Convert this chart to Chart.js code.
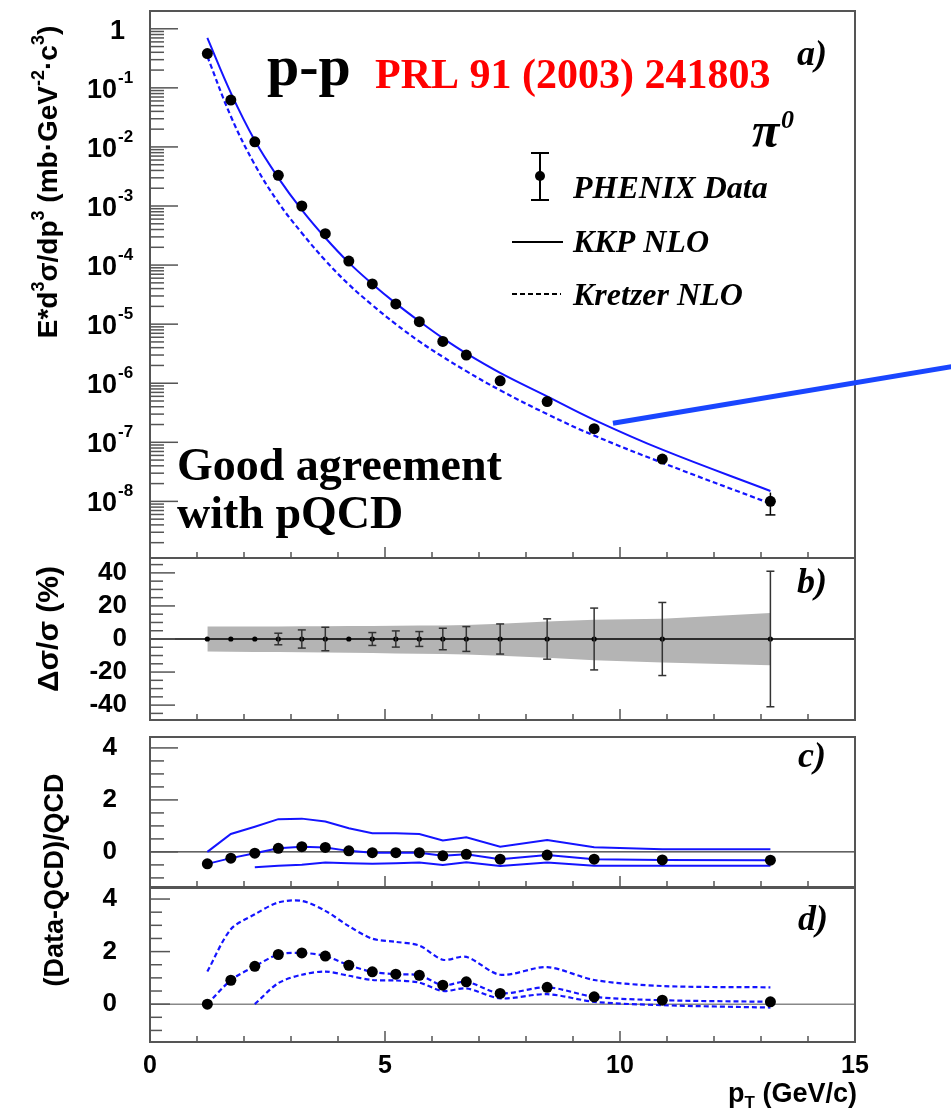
<!DOCTYPE html>
<html>
<head>
<meta charset="utf-8">
<script src="https://cdn.jsdelivr.net/npm/chart.js@4.4.1/dist/chart.umd.min.js"></script>
<style>
  body { margin: 0; background: #fff; width: 951px; height: 1110px; position: relative; overflow: hidden; }
  canvas { position: absolute; left: 0; top: 0; }
</style>
</head>
<body>
<canvas id="chartA" width="951" height="1110"></canvas>
<canvas id="chartB" width="951" height="1110"></canvas>
<canvas id="chartC" width="951" height="1110"></canvas>
<canvas id="chartD" width="951" height="1110"></canvas>
<script>
// ----------------------------------------------------
// DATA  (pi0 cross section, PHENIX p-p)
// ----------------------------------------------------
const pt       = [1.22, 1.72, 2.23, 2.73, 3.23, 3.73, 4.23, 4.73, 5.23, 5.73, 6.23, 6.73, 7.45, 8.45, 9.45, 10.9, 13.2];
const sigma    = [0.38, 0.062, 0.0122, 0.0033, 1.0e-3, 3.4e-4, 1.17e-4, 4.8e-5, 2.2e-5, 1.1e-5, 5.1e-6, 3.0e-6, 1.1e-6, 4.9e-7, 1.7e-7, 5.2e-8, 1.0e-8];
const kkpNLO   = [0.70, 0.082, 0.0128, 0.0030, 8.6e-4, 2.9e-4, 1.1e-4, 4.8e-5, 2.25e-5, 1.12e-5, 5.8e-6, 3.2e-6, 1.5e-6, 6.0e-7, 2.4e-7, 7.5e-8, 1.5e-8];
const kretzer  = [0.34, 0.033, 0.0050, 0.00115, 3.5e-4, 1.2e-4, 4.7e-5, 2.1e-5, 1.0e-5, 5.1e-6, 2.8e-6, 1.6e-6, 7.6e-7, 3.0e-7, 1.3e-7, 4.5e-8, 9.2e-9];

// panel b: relative errors (%)
const statErr  = [1.0, 1.0, 1.0, 3.5, 5.5, 7.1, 1.0, 3.9, 4.9, 4.5, 6.5, 7.5, 9.1, 12.2, 18.7, 22.1, 41];
const sysUp    = [7.5, 7.5, 7.6, 7.6, 7.7, 7.7, 7.8, 7.9, 8.0, 8.1, 8.2, 8.4, 9.2, 10.6, 11.6, 12.2, 15.7];
const sysLow   = [-7.6, -7.7, -7.8, -7.9, -8.0, -8.2, -8.3, -8.5, -8.7, -8.9, -9.1, -9.4, -10.2, -11.4, -12.8, -14.2, -15.9];
const bCentral = [0, 0, 0, 0, 0, 0, 0, 0, 0, 0, 0, 0, 0, 0, 0, 0, 0];

// panel c: (Data-KKP)/KKP
const cRatio   = [-0.46, -0.24, -0.05, 0.14, 0.20, 0.17, 0.04, -0.03, -0.03, -0.03, -0.15, -0.09, -0.28, -0.12, -0.28, -0.31, -0.32];
const cUp      = [0.0, 0.69, 0.97, 1.26, 1.28, 1.17, 0.91, 0.72, 0.72, 0.69, 0.44, 0.56, 0.20, 0.46, 0.18, 0.10, 0.10];
const cLow     = [null, null, -0.59, -0.53, -0.49, -0.41, -0.44, -0.46, -0.44, -0.41, -0.50, -0.40, -0.54, -0.41, -0.53, -0.53, -0.53];

// panel d: (Data-Kretzer)/Kretzer
const dRatio   = [0.0, 0.91, 1.44, 1.89, 1.95, 1.83, 1.48, 1.23, 1.14, 1.10, 0.72, 0.85, 0.41, 0.64, 0.28, 0.15, 0.09];
const dUp      = [1.24, 2.85, 3.42, 3.87, 3.93, 3.55, 2.97, 2.49, 2.37, 2.23, 1.69, 1.80, 1.12, 1.41, 0.92, 0.69, 0.64];
const dLow     = [null, null, 0.0, 0.80, 1.12, 1.24, 1.08, 0.92, 0.90, 0.82, 0.50, 0.60, 0.22, 0.38, 0.09, -0.04, -0.13];

// axes
const xTicks   = [0, 5, 10, 15];
const yTicksA  = [1e-8, 1e-7, 1e-6, 1e-5, 1e-4, 1e-3, 1e-2, 1e-1, 1];
const yTicksB  = [-40, -20, 0, 20, 40];
const yTicksCD = [0, 2, 4];
const zeroX    = [0, 15];

// pointer line drawn over panel a (pT, value)
const arrowPT  = [9.85, 17.05];
const arrowVal = [2.1e-7, 1.9e-6];

const SANS  = '"Liberation Sans", Arial, sans-serif';
const SERIF = '"Liberation Serif", "Times New Roman", serif';
const BLUE  = '#1414ff';

// ----------------------------------------------------
// HELPERS
// ----------------------------------------------------
function series(vals) {
    return pt.map((x, i) => ({ x, y: vals[i] })).filter(p => p.y !== null);
}

function seg(ctx, x1, y1, x2, y2) {
    ctx.beginPath();
    ctx.moveTo(x1, y1);
    ctx.lineTo(x2, y2);
    ctx.stroke();
}

// parts: [text, font, baselineShift]
function richText(ctx, parts, x, y, align, rotate) {
    ctx.save();
    ctx.translate(x, y);
    if (rotate) ctx.rotate(-Math.PI / 2);
    ctx.textBaseline = 'alphabetic';
    ctx.textAlign = 'left';
    let w = 0;
    parts.forEach(p => { ctx.font = p[1]; w += ctx.measureText(p[0]).width; });
    let cx = align === 'center' ? -w / 2 : align === 'right' ? -w : 0;
    parts.forEach(p => {
        ctx.font = p[1];
        ctx.fillText(p[0], cx, p[2] || 0);
        cx += ctx.measureText(p[0]).width;
    });
    ctx.restore();
}

function panelLabel(ctx, text, x, y) {
    ctx.save();
    ctx.fillStyle = '#000';
    ctx.font = `italic bold 36px ${SERIF}`;
    ctx.fillText(text, x, y);
    ctx.restore();
}

// ----------------------------------------------------
// ROOT STYLE FRAME + INWARD TICKS
// ----------------------------------------------------
const rootFrame = {
    id: 'rootFrame',
    afterDraw(chart, args, o) {
        const { ctx, chartArea: a, scales: { x, y } } = chart;
        ctx.save();
        ctx.strokeStyle = '#555';
        ctx.lineWidth = 1.5;

        if (o.log) {
            const k0 = Math.floor(Math.log10(y.min)), k1 = Math.ceil(Math.log10(y.max));
            for (let k = k0; k <= k1; k++) {
                for (let m = 1; m <= 9; m++) {
                    const v = m * Math.pow(10, k);
                    if (v < y.min || v > y.max) continue;
                    const py = y.getPixelForValue(v);
                    seg(ctx, a.left, py, a.left + (m === 1 ? o.majorLen : o.minorLen), py);
                }
            }
        } else {
            const majors = y.ticks.map(t => t.value);
            for (let v = Math.ceil(y.min / o.minorStep) * o.minorStep; v <= y.max + 1e-9; v += o.minorStep) {
                const isMajor = majors.some(m => Math.abs(m - v) < 1e-6);
                const py = y.getPixelForValue(v);
                seg(ctx, a.left, py, a.left + (isMajor ? o.majorLen : o.minorLen), py);
            }
        }

        for (let v = 0; v <= 15; v++) {
            const px = x.getPixelForValue(v);
            seg(ctx, px, a.bottom, px, a.bottom - (xTicks.includes(v) ? 11 : 6));
        }

        ctx.lineWidth = 2;
        ctx.strokeRect(a.left, a.top, a.right - a.left, a.bottom - a.top);
        ctx.restore();
    }
};

// ----------------------------------------------------
// AXIS FACTORIES
// ----------------------------------------------------
function axisX(show) {
    return {
        type: 'linear', min: 0, max: 15, display: show,
        afterBuildTicks: s => { s.ticks = xTicks.map(v => ({ value: v })); },
        afterFit: s => { if (show) s.height = 68; },
        grid: { display: false },
        border: { display: false },
        ticks: {
            color: '#000', padding: 1, maxRotation: 0, autoSkip: false,
            font: { family: SANS, size: 25, weight: 'bold' }
        }
    };
}

function axisY(type, min, max, ticks, showLabels, pad) {
    return {
        type, min, max,
        afterBuildTicks: s => { s.ticks = ticks.map(v => ({ value: v })); },
        afterFit: s => { s.width = 150; },
        grid: { display: false },
        border: { display: false },
        ticks: {
            display: showLabels, color: '#000', padding: pad,
            font: { family: SANS, size: 26, weight: 'bold' }
        }
    };
}

function makeChart(id, datasets, top, bottom, yScale, showX, frameOpts, extra) {
    return new Chart(document.getElementById(id), {
        type: 'scatter',
        data: { datasets },
        options: {
            responsive: false,
            animation: false,
            devicePixelRatio: 1,
            layout: { padding: { left: 0, right: 96, top, bottom: showX ? 0 : 1110 - bottom } },
            plugins: { legend: { display: false }, tooltip: { enabled: false }, rootFrame: frameOpts },
            scales: { x: axisX(showX), y: yScale }
        },
        plugins: [rootFrame, extra]
    });
}

// ----------------------------------------------------
// PANEL A — invariant cross section
// ----------------------------------------------------
const panelA = {
    id: 'panelA',
    afterDatasetsDraw(chart) {
        const { ctx, scales: { x, y } } = chart;
        ctx.save();
        ctx.strokeStyle = '#000';
        ctx.lineWidth = 1.5;
        pt.forEach((p, i) => {
            const e = sigma[i] * statErr[i] / 100;
            const px = x.getPixelForValue(p);
            const y1 = y.getPixelForValue(sigma[i] + e);
            const y2 = y.getPixelForValue(sigma[i] - e);
            if (y2 - y1 < 12) return;
            seg(ctx, px, y1, px, y2);
            seg(ctx, px - 5, y2, px + 5, y2);
        });
        ctx.restore();
    },
    afterDraw(chart) {
        const { ctx, scales: { x, y } } = chart;
        ctx.save();
        ctx.fillStyle = '#000';

        // y tick labels with exponents
        yTicksA.forEach(v => {
            const py = y.getPixelForValue(v);
            const e = Math.round(Math.log10(v));
            ctx.textBaseline = 'alphabetic';
            if (e === 0) {
                ctx.textAlign = 'right';
                ctx.font = `bold 27px ${SANS}`;
                ctx.fillText('1', 125, py + 10);
            } else {
                ctx.textAlign = 'right';
                ctx.font = `bold 27px ${SANS}`;
                ctx.fillText('10', 117, py + 10);
                ctx.textAlign = 'left';
                ctx.font = `bold 17px ${SANS}`;
                ctx.fillText(String(e), 118, py - 5);
            }
        });

        // y title
        const F = `bold 28px ${SANS}`, S = `bold 18px ${SANS}`;
        richText(ctx, [['E*d', F], ['3', S, -13], ['σ/dp', F], ['3', S, -13], [' (mb·GeV', F],
                       ['-2', S, -13], ['·c', F], ['3', S, -13], [')', F]], 57, 182, 'center', true);

        // annotations
        ctx.textAlign = 'left';
        ctx.font = `bold 58px ${SERIF}`;
        ctx.fillText('p-p', 267, 85);
        ctx.fillStyle = '#ff0000';
        ctx.font = `bold 42px ${SERIF}`;
        ctx.fillText('PRL 91 (2003) 241803', 375, 88);
        ctx.fillStyle = '#000';
        ctx.font = `bold 46px ${SERIF}`;
        ctx.fillText('Good agreement', 177, 480);
        ctx.fillText('with pQCD', 177, 528);
        ctx.font = `italic bold 50px ${SERIF}`;
        ctx.fillText('π', 752, 147);
        ctx.font = `italic bold 26px ${SERIF}`;
        ctx.fillText('0', 781, 128);
        ctx.restore();
        panelLabel(ctx, 'a)', 797, 65);

        // legend
        ctx.save();
        ctx.strokeStyle = '#000';
        ctx.fillStyle = '#000';
        ctx.lineWidth = 2;
        seg(ctx, 540, 153, 540, 200);
        seg(ctx, 531, 153, 549, 153);
        seg(ctx, 531, 200, 549, 200);
        ctx.beginPath();
        ctx.arc(540, 176, 5, 0, Math.PI * 2);
        ctx.fill();
        seg(ctx, 512, 242, 563, 242);
        ctx.setLineDash([5, 3]);
        seg(ctx, 512, 294, 561, 294);
        ctx.setLineDash([]);
        ctx.font = `italic bold 32px ${SERIF}`;
        ctx.fillText('PHENIX Data', 573, 198);
        ctx.fillText('KKP NLO', 573, 252);
        ctx.fillText('Kretzer NLO', 573, 305);

        // pointer line
        ctx.strokeStyle = '#1a46ff';
        ctx.lineWidth = 5;
        seg(ctx, x.getPixelForValue(arrowPT[0]), y.getPixelForValue(arrowVal[0]),
                 x.getPixelForValue(arrowPT[1]), y.getPixelForValue(arrowVal[1]));
        ctx.restore();
    }
};

makeChart('chartA', [
    { data: series(sigma), pointRadius: 5.5, pointBackgroundColor: '#000', pointBorderWidth: 0 },
    { data: series(kkpNLO), showLine: true, borderColor: BLUE, borderWidth: 2, pointRadius: 0, tension: 0.4 },
    { data: series(kretzer), showLine: true, borderColor: BLUE, borderWidth: 2.2, borderDash: [5, 3], pointRadius: 0, tension: 0.4 }
], 11, 558, axisY('logarithmic', 1.1e-9, 2, yTicksA, false, 0), false,
   { log: true, majorLen: 28, minorLen: 14 }, panelA);

// ----------------------------------------------------
// PANEL B — relative errors
// ----------------------------------------------------
const panelB = {
    id: 'panelB',
    afterDatasetsDraw(chart) {
        const { ctx, scales: { x, y } } = chart;
        ctx.save();
        ctx.strokeStyle = '#333';
        ctx.lineWidth = 1.5;
        pt.forEach((p, i) => {
            const px = x.getPixelForValue(p);
            const y1 = y.getPixelForValue(statErr[i]);
            const y2 = y.getPixelForValue(-statErr[i]);
            if (y2 - y1 < 6) return;
            seg(ctx, px, y1, px, y2);
            seg(ctx, px - 4, y1, px + 4, y1);
            seg(ctx, px - 4, y2, px + 4, y2);
        });
        ctx.restore();
    },
    afterDraw(chart) {
        const { ctx } = chart;
        ctx.save();
        ctx.fillStyle = '#000';
        richText(ctx, [['Δσ/σ (%)', `bold 30px ${SANS}`]], 58, 629, 'center', true);
        ctx.restore();
        panelLabel(ctx, 'b)', 797, 593);
    }
};

makeChart('chartB', [
    { data: series(bCentral), pointRadius: 2.6, pointBackgroundColor: '#000', pointBorderWidth: 0 },
    { data: zeroX.map(v => ({ x: v, y: 0 })), showLine: true, borderColor: '#000', borderWidth: 1.5, pointRadius: 0 },
    { data: series(sysUp), showLine: true, borderWidth: 0, pointRadius: 0, fill: '+1', backgroundColor: '#b4b4b4' },
    { data: series(sysLow), showLine: true, borderWidth: 0, pointRadius: 0 }
], 558, 720, axisY('linear', -49, 49, yTicksB, true, 15), false,
   { majorLen: 25, minorLen: 13, minorStep: 5 }, panelB);

// ----------------------------------------------------
// PANEL C — (Data-QCD)/QCD, KKP
// ----------------------------------------------------
const panelC = {
    id: 'panelC',
    afterDraw(chart) {
        const { ctx } = chart;
        ctx.save();
        ctx.fillStyle = '#000';
        richText(ctx, [['(Data-QCD)/QCD', `bold 27px ${SANS}`]], 63, 880, 'center', true);
        ctx.restore();
        panelLabel(ctx, 'c)', 798, 767);
    }
};

makeChart('chartC', [
    { data: series(cRatio), showLine: true, borderColor: BLUE, borderWidth: 2, pointRadius: 5.5,
      pointBackgroundColor: '#000', pointBorderWidth: 0 },
    { data: series(cUp), showLine: true, borderColor: BLUE, borderWidth: 2, pointRadius: 0 },
    { data: series(cLow), showLine: true, borderColor: BLUE, borderWidth: 2, pointRadius: 0 },
    { data: zeroX.map(v => ({ x: v, y: 0 })), showLine: true, borderColor: '#000', borderWidth: 1, pointRadius: 0 }
], 737, 887, axisY('linear', -1.35, 4.42, yTicksCD, true, 25), false,
   { majorLen: 28, minorLen: 14, minorStep: 0.5 }, panelC);

// ----------------------------------------------------
// PANEL D — (Data-QCD)/QCD, Kretzer
// ----------------------------------------------------
const panelD = {
    id: 'panelD',
    afterDraw(chart) {
        const { ctx } = chart;
        ctx.save();
        ctx.fillStyle = '#000';
        richText(ctx, [['p', `bold 27px ${SANS}`], ['T', `bold 17px ${SANS}`, 6],
                       [' (GeV/c)', `bold 27px ${SANS}`]], 857, 1102, 'right', false);
        ctx.restore();
        panelLabel(ctx, 'd)', 798, 930);
    }
};

makeChart('chartD', [
    { data: series(dRatio), showLine: true, borderColor: BLUE, borderWidth: 2.2, borderDash: [5, 3],
      pointRadius: 5.5, pointBackgroundColor: '#000', pointBorderWidth: 0, tension: 0.3 },
    { data: series(dUp), showLine: true, borderColor: BLUE, borderWidth: 2.2, borderDash: [5, 3], pointRadius: 0, tension: 0.3 },
    { data: series(dLow), showLine: true, borderColor: BLUE, borderWidth: 2.2, borderDash: [5, 3], pointRadius: 0, tension: 0.3 },
    { data: zeroX.map(v => ({ x: v, y: 0 })), showLine: true, borderColor: '#888', borderWidth: 1.5, pointRadius: 0 }
], 888, 1042, axisY('linear', -1.44, 4.42, yTicksCD, true, 25), true,
   { majorLen: 20, minorLen: 12, minorStep: 0.5 }, panelD);
</script>
</body>
</html>
